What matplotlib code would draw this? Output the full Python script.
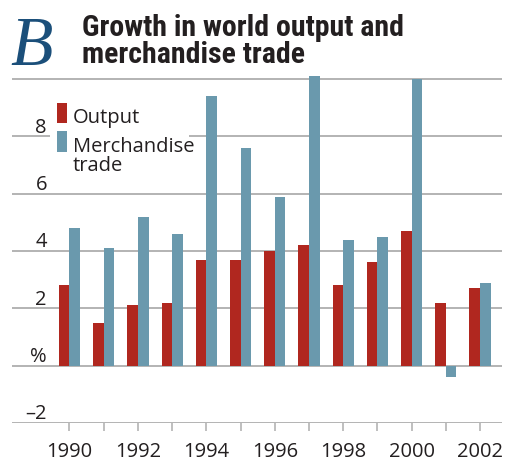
import matplotlib
matplotlib.use("Agg")
import matplotlib.pyplot as plt
from matplotlib.patches import Rectangle
from matplotlib import font_manager
import numpy as np

# data (annual growth, %)
years = np.arange(1990, 2003)
output = [2.8, 1.5, 2.1, 2.2, 3.7, 3.7, 4.0, 4.2, 2.8, 3.6, 4.7, 2.2, 2.7]
merch = [4.8, 4.1, 5.2, 4.6, 9.4, 7.6, 5.9, 10.1, 4.4, 4.5, 10.0, -0.4, 2.9]
ytick_vals = [-2, 0, 2, 4, 6, 8, 10]
ytick_text = ["\u20132", "%", "2", "4", "6", "8", ""]
xtick_labels = [str(y) if y % 2 == 0 else "" for y in years]
title_lines = ["Growth in world output and", "merchandise trade"]

RED = "#B0271F"
BLUE = "#6A99AD"
GRID = "#AEAEAE"
TXT = "#231F20"
NUMFONT = "Open Sans"

# narrowest bold sans that is available for the title
fonts = font_manager.fontManager.ttflist
TITLEFONT, TITLESTRETCH = "Roboto", "normal"
for name, stretch in [("Roboto Condensed", "normal"), ("Liberation Sans Narrow", "normal"),
                      ("DejaVu Sans", "condensed")]:
    if any(f.name == name and (stretch == "normal" or f.stretch == stretch) for f in fonts):
        TITLEFONT, TITLESTRETCH = name, stretch
        break

W, H = 513, 462
fig = plt.figure(figsize=(W / 100, H / 100), dpi=100)


def fx(x):
    return x / W


def fy(y):
    return 1 - y / H


ax = fig.add_axes([fx(12), fy(423), (502 - 12) / W, (423 - 70.4) / H])
ax.set_xlim(1988.32, 2002.64)
ax.set_ylim(-2, 10.3)

w = 0.31
ax.bar(years - w / 2, output, w, color=RED, zorder=3)
ax.bar(years + w / 2, merch, w, color=BLUE, zorder=3)

for s in ax.spines.values():
    s.set_visible(False)

ax.set_yticks(ytick_vals)
ax.yaxis.grid(True, color=GRID, lw=1.3)
ax.tick_params(axis="y", length=0, labelleft=False)
ax.set_axisbelow(True)

ax.set_xticks(years)
ax.set_xticklabels(xtick_labels, fontfamily=NUMFONT, fontsize=14.5, color=TXT)
ax.tick_params(axis="x", length=6, width=1.1, color=GRID, pad=8)

# y labels sit just above their gridlines
for v, t in zip(ytick_vals, ytick_text):
    ax.text(0.0714, v + 0.13, t, transform=ax.get_yaxis_transform(),
            ha="right", va="baseline", fontfamily=NUMFONT, fontsize=14.5, color=TXT)

# legend on a white box that hides the gridline
fig.add_artist(Rectangle((fx(50), fy(176)), (189 - 50) / W, (176 - 96) / H,
                         transform=fig.transFigure, facecolor="white",
                         edgecolor="none", zorder=2))
fig.add_artist(Rectangle((fx(57), fy(123)), 10 / W, 20 / H, transform=fig.transFigure,
                         facecolor=RED, edgecolor="none", zorder=3))
fig.add_artist(Rectangle((fx(57), fy(152)), 10 / W, 21 / H, transform=fig.transFigure,
                         facecolor=BLUE, edgecolor="none", zorder=3))
fig.text(fx(73), fy(123), "Output", ha="left", va="baseline", fontfamily=NUMFONT,
         fontsize=14.5, color=TXT, zorder=4)
fig.text(fx(73), fy(171), "Merchandise\ntrade", ha="left", va="baseline",
         fontfamily=NUMFONT, fontsize=14.5, color=TXT, linespacing=0.95, zorder=4)

# title
fig.text(fx(10), fy(65), "B", ha="left", va="baseline", fontfamily="Liberation Serif",
         style="italic", fontsize=50, color="#1B4F7A")
t1 = fig.text(fx(82), fy(36.5), title_lines[0], ha="left", va="baseline",
              fontfamily=TITLEFONT, fontstretch=TITLESTRETCH, fontweight="bold",
              fontsize=18, color=TXT)
t2 = fig.text(fx(82), fy(63), title_lines[1], ha="left", va="baseline",
              fontfamily=TITLEFONT, fontstretch=TITLESTRETCH, fontweight="bold",
              fontsize=18, color=TXT)
# scale the title so the first line is as wide as in the reference
r = fig.canvas.get_renderer()
size = 18 * 321 / t1.get_window_extent(r).width
t1.set_fontsize(size)
t2.set_fontsize(size)

fig.savefig("out.png", dpi=100)
